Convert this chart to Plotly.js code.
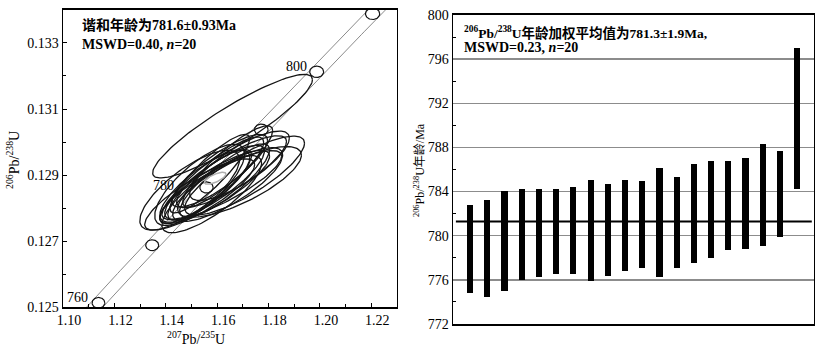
<!DOCTYPE html>
<html><head><meta charset="utf-8">
<script src="https://cdn.plot.ly/plotly-3.0.1.min.js"></script>
<style>html,body{margin:0;padding:0;background:#fff}</style>
</head><body><div id="chart" style="width:840px;height:352px"></div>
<script>
// ---------- left panel: concordia ----------
const curveAgeMin = 740, curveAgeMax = 830;
const markerAges = [760, 770, 780, 790, 800, 810];
const labelAges = [760, 780, 800];
// spot analyses: 207Pb/235U, 206Pb/238U with half-widths of error ellipses and correlation
const r75 = [1.1532,1.1579,1.1493,1.1590,1.1552,1.1618,1.1571,1.1532,1.1641,1.1590,1.1687,1.1579,1.1629,1.1707,1.1571,1.1656,1.1610,1.1641,1.1687,1.1660];
const e75 = [0.0214,0.0194,0.0194,0.0214,0.0175,0.0233,0.0163,0.0175,0.0214,0.0194,0.0241,0.0202,0.0175,0.0233,0.0155,0.0214,0.0186,0.0175,0.0194,0.0311];
const r68 = [0.12841,0.12842,0.12854,0.12864,0.12866,0.12869,0.12870,0.12870,0.12871,0.12878,0.12879,0.12884,0.12883,0.12898,0.12904,0.12910,0.12913,0.12926,0.12928,0.13048];
const e68 = [0.00108,0.00117,0.00121,0.00111,0.00109,0.00105,0.00107,0.00123,0.00112,0.00112,0.00107,0.00131,0.00111,0.00120,0.00119,0.00109,0.00110,0.00123,0.00105,0.00157];
const rho = [0.84,0.80,0.76,0.84,0.80,0.84,0.84,0.76,0.80,0.84,0.76,0.88,0.84,0.82,0.88,0.84,0.84,0.88,0.80,0.90];
// concordia age
const concAge = 781.6;
const concErr75 = 0.0042, concErr68 = 0.00018, concRho = 0.7;

// ---------- right panel: weighted mean ----------
const spotNo = [1,2,3,4,5,6,7,8,9,10,11,12,13,14,15,16,17,18,19,20];
const ageLow  = [774.78,774.48,775.02,775.99,776.23,776.50,776.50,775.87,776.35,776.77,777.04,776.29,777.10,777.56,777.95,778.71,778.83,779.04,779.88,784.20];
const ageHigh = [782.78,783.21,784.08,784.26,784.26,784.26,784.39,785.05,784.69,785.05,784.93,786.17,785.32,786.50,786.80,786.74,787.01,788.28,787.65,797.04];
const meanAge = 781.3;

// decay constants (per Ma) and 2-sigma uncertainties
const L5 = 9.8485e-4, L8 = 1.55125e-4, sL5 = 1.34e-6, sL8 = 1.66e-7;
function conc(t){ return [Math.exp(L5*t)-1, Math.exp(L8*t)-1]; }
function tickAxes(t){ return [1.15*t*sL5*Math.exp(L5*t), 1.15*t*sL8*Math.exp(L8*t)]; }

function ellipse(cx, cy, ex, ey, r, xs, ys){
  const s = Math.sqrt(1-r*r);
  for(let i=0;i<=120;i++){
    const a = 2*Math.PI*i/120;
    xs.push(cx + ex*Math.cos(a));
    ys.push(cy + ey*(r*Math.cos(a) + s*Math.sin(a)));
  }
  xs.push(null); ys.push(null);
}

// concordia band envelope
const up = {x:[],y:[]}, lo = {x:[],y:[]};
for(let t=curveAgeMin; t<=curveAgeMax; t+=0.5){
  const p = conc(t), [ex,ey] = tickAxes(t);
  const dx = L5*Math.exp(L5*t), dy = L8*Math.exp(L8*t);
  const th = Math.atan2(dx*ey, -dy*ex);
  const ox = ex*Math.cos(th), oy = ey*Math.sin(th);
  up.x.push(p[0]+ox); up.y.push(p[1]+oy);
  lo.x.push(p[0]-ox); lo.y.push(p[1]-oy);
}
const mk = {x:[],y:[]};
markerAges.forEach(t=>{ const p=conc(t), a=tickAxes(t); ellipse(p[0],p[1],a[0],a[1],0,mk.x,mk.y); });
const el = {x:[],y:[]};
r75.forEach((v,i)=>ellipse(v, r68[i], e75[i], e68[i], rho[i], el.x, el.y));
const ce = {x:[],y:[]};
const cp = conc(concAge);
ellipse(cp[0], cp[1], concErr75, concErr68, concRho, ce.x, ce.y);

const F = 'Liberation Serif, "Times New Roman", "Noto Sans CJK SC", serif';
const lineBase = {mode:'lines', hoverinfo:'skip', showlegend:false, xaxis:'x', yaxis:'y'};
const traces = [
  Object.assign({x:up.x, y:up.y, line:{color:'#8a8a8a', width:1}}, lineBase),
  Object.assign({x:lo.x, y:lo.y, line:{color:'#8a8a8a', width:1}}, lineBase),
  Object.assign({x:el.x, y:el.y, line:{color:'#151515', width:1.3}}, lineBase),
  Object.assign({x:mk.x, y:mk.y, line:{color:'#111', width:1.2}}, lineBase),
  Object.assign({x:ce.x, y:ce.y, line:{color:'#b0b0b0', width:1.5}}, lineBase),
  {type:'bar', x:spotNo, base:ageLow, y:ageHigh.map((h,i)=>h-ageLow[i]), width:0.36,
   marker:{color:'#000', line:{width:0}}, xaxis:'x2', yaxis:'y2', showlegend:false, hoverinfo:'skip'}
];

const labelShift = {760:[-8,5], 780:[-30,2], 800:[-8,5]};
const labelAnn = labelAges.map(t=>{ const p=conc(t); return {x:p[0], y:p[1], xref:'x', yref:'y', text:String(t),
  showarrow:false, xanchor:'right', yanchor:'middle', xshift:labelShift[t][0], yshift:labelShift[t][1], font:{family:F, size:14, color:'#000'}}; });

const layout = {
  width:840, height:352, margin:{l:0,r:0,t:0,b:0}, paper_bgcolor:'#fff', plot_bgcolor:'#fff',
  font:{family:F, size:14, color:'#000'}, showlegend:false, bargap:0,
  xaxis:{domain:[0.0750,0.4726], range:[1.10,1.23], tick0:1.10, dtick:0.02, tickformat:'.2f',
    ticks:'inside', ticklen:4, tickcolor:'#000', showline:true, linecolor:'#000', linewidth:1.5, mirror:true,
    showgrid:false, zeroline:false, ticklabelshift:6,
    minor:{dtick:0.01, ticks:'inside', ticklen:3, tickcolor:'#000', showgrid:false},
    tickfont:{family:F, size:14}},
  yaxis:{domain:[0.1278,0.9716], range:[0.125,0.134], tick0:0.125, dtick:0.002, tickformat:'.3f',
    ticks:'inside', ticklen:4, tickcolor:'#000', showline:true, linecolor:'#000', linewidth:1.5, mirror:true,
    showgrid:false, zeroline:false,
    minor:{dtick:0.001, ticks:'inside', ticklen:3, tickcolor:'#000', showgrid:false},
    tickfont:{family:F, size:14}},
  xaxis2:{domain:[0.5393,0.9690], range:[0.01,20.97], anchor:'y2', showticklabels:false, ticks:'',
    showline:true, linecolor:'#000', linewidth:1.5, mirror:true, showgrid:false, zeroline:false},
  yaxis2:{domain:[0.0795,0.9574], range:[772,800], anchor:'x2', tick0:772, dtick:4, ticks:'',
    showline:true, linecolor:'#000', linewidth:1.5, mirror:true, zeroline:false,
    showgrid:true, gridcolor:'#8c8c8c', gridwidth:1.5,
    minor:{dtick:2, ticks:'inside', ticklen:3, tickcolor:'#000', showgrid:false},
    tickfont:{family:F, size:14}},
  shapes:[{type:'line', xref:'x2 domain', yref:'y2', x0:0.008, x1:0.994, y0:meanAge, y1:meanAge, line:{color:'#000', width:2}}],
  annotations: labelAnn.concat([
    {xref:'paper', yref:'paper', x:196/840, y:1-338/352, xanchor:'center', yanchor:'middle', showarrow:false,
     text:'<sup>207</sup>Pb/<sup>235</sup>U', font:{family:F, size:14}},
    {xref:'paper', yref:'paper', x:13/840, y:1-160/352, xanchor:'center', yanchor:'middle', showarrow:false, textangle:-90,
     text:'<sup>206</sup>Pb/<sup>238</sup>U', font:{family:F, size:14}},
    {xref:'paper', yref:'paper', x:419/840, y:1-170/352, xanchor:'center', yanchor:'middle', showarrow:false, textangle:-90,
     text:'<sup>206</sup>Pb/<sup>238</sup>U年龄/Ma', font:{family:F, size:12}},
    {xref:'paper', yref:'paper', x:80/840, y:1-25/352, xanchor:'left', yanchor:'middle', showarrow:false,
     text:'<b>谐和年龄为781.6±0.93Ma</b>', font:{family:F, size:14}},
    {xref:'paper', yref:'paper', x:80/840, y:1-44/352, xanchor:'left', yanchor:'middle', showarrow:false,
     text:'<b>MSWD=0.40, <i>n</i>=20</b>', font:{family:F, size:14}},
    {xref:'paper', yref:'paper', x:462/840, y:1-32/352, xanchor:'left', yanchor:'middle', showarrow:false,
     text:'<b><sup>206</sup>Pb/<sup>238</sup>U年龄加权平均值为781.3±1.9Ma,</b>', font:{family:F, size:13.5}},
    {xref:'paper', yref:'paper', x:462/840, y:1-47/352, xanchor:'left', yanchor:'middle', showarrow:false,
     text:'<b>MSWD=0.23, <i>n</i>=20</b>', font:{family:F, size:14}}
  ])
};
Plotly.newPlot('chart', traces, layout, {staticPlot:true, displayModeBar:false});
</script></body></html>
